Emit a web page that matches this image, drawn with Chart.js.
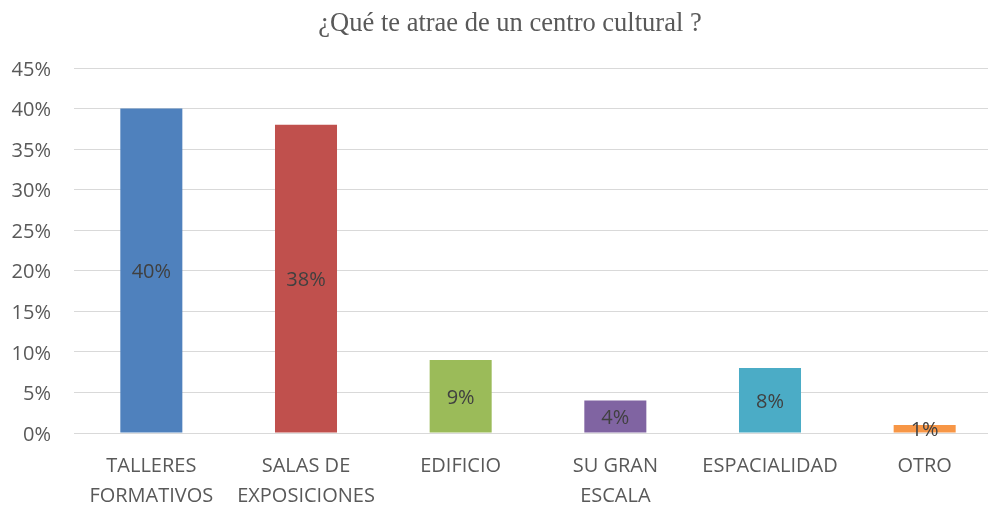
<!DOCTYPE html>
<html>
<head>
<meta charset="utf-8">
<script src="https://cdn.jsdelivr.net/npm/chart.js@4"></script>
<style>
html,body{margin:0;padding:0;background:#fff;overflow:hidden;}
#wrap{position:relative;width:1002px;height:507px;}
</style>
</head>
<body>
<div id="wrap"><canvas id="c" width="1002" height="507"></canvas></div>
<script>
const titleText = '¿Qué te atrae de un centro cultural ?';
const categories = [['TALLERES','FORMATIVOS'],['SALAS DE','EXPOSICIONES'],'EDIFICIO',['SU GRAN','ESCALA'],'ESPACIALIDAD','OTRO'];
const values = [40, 38, 9, 4, 8, 1];
const barColors = ['#4F81BD','#C0504D','#9BBB59','#8064A2','#4BACC6','#F79646'];
const yTicks = [0,5,10,15,20,25,30,35,40,45];

const FONT = '"Open Sans", "Liberation Sans", sans-serif';

const titlePlugin = {
  id: 'customTitle',
  afterDraw(chart) {
    const ctx = chart.ctx;
    ctx.save();
    ctx.font = '26.5px "Liberation Serif", "Times New Roman", serif';
    ctx.fillStyle = '#595959';
    ctx.textAlign = 'center';
    ctx.textBaseline = 'alphabetic';
    ctx.fillText(titleText, 510, 31);
    ctx.restore();
  }
};

const dataLabelPlugin = {
  id: 'dataLabels',
  afterDatasetsDraw(chart) {
    const ctx = chart.ctx;
    const meta = chart.getDatasetMeta(0);
    ctx.save();
    ctx.font = '20px ' + FONT;
    ctx.fillStyle = '#404040';
    ctx.textAlign = 'center';
    ctx.textBaseline = 'middle';
    meta.data.forEach((bar, i) => {
      const y = (bar.y + bar.base) / 2 + 2;
      ctx.fillText(values[i] + '%', bar.x, y);
    });
    ctx.restore();
  }
};

new Chart(document.getElementById('c'), {
  type: 'bar',
  data: {
    labels: categories,
    datasets: [{
      data: values,
      backgroundColor: barColors,
      borderWidth: 0,
      categoryPercentage: 1.0,
      barPercentage: 0.401
    }]
  },
  options: {
    responsive: false,
    animation: false,
    layout: { padding: { top: 68, left: 0, right: 0, bottom: 0 } },
    plugins: { legend: { display: false }, tooltip: { enabled: false }, title: { display: false } },
    scales: {
      x: {
        grid: { display: false, drawTicks: false },
        border: { display: true, color: '#d9d9d9', width: 1 },
        ticks: {
          color: '#595959',
          font: { family: FONT, size: 20, lineHeight: 1.5 },
          padding: 18,
          maxRotation: 0,
          autoSkip: false
        },
        afterFit(s) { s.height = 74; }
      },
      y: {
        min: 0, max: 45,
        afterBuildTicks(s) { s.ticks = yTicks.map(v => ({ value: v })); },
        grid: { color: '#d9d9d9', lineWidth: 1, drawTicks: false },
        border: { display: false },
        ticks: {
          color: '#595959',
          font: { family: FONT, size: 20 },
          padding: 23,
          labelOffset: 2,
          callback: v => v + '%'
        },
        afterFit(s) { s.width = 74; }
      }
    }
  },
  plugins: [titlePlugin, dataLabelPlugin]
});
</script>
</body>
</html>
